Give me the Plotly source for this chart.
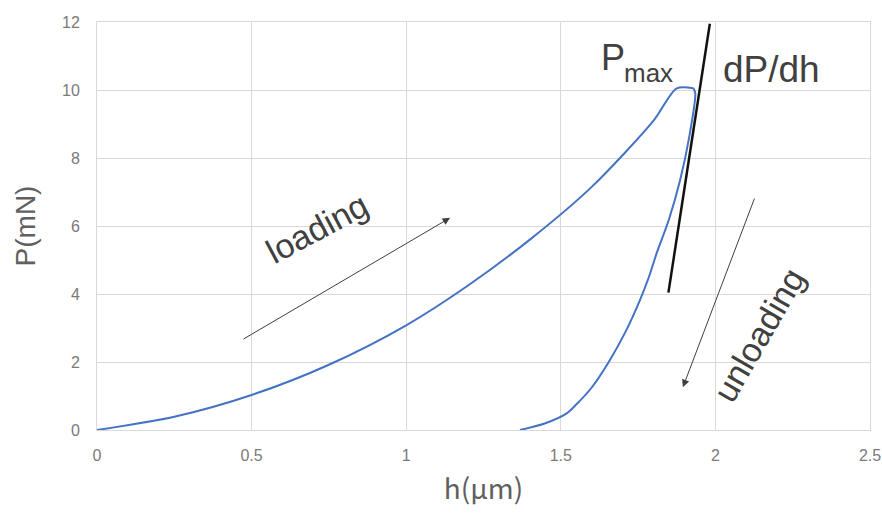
import plotly.graph_objects as go

# Loading curve (h in µm, P in mN)
loading_h = [0.0, 0.25, 0.5, 0.75, 1.0, 1.2, 1.4, 1.6, 1.8, 1.875, 1.929]
loading_P = [0.0, 0.39, 1.03, 1.92, 3.08, 4.25, 5.60, 7.15, 9.10, 10.05, 10.05]

# Unloading curve
unloading_h = [1.929, 1.935, 1.915, 1.886, 1.85, 1.81, 1.785, 1.756, 1.71, 1.659, 1.60, 1.55, 1.519, 1.45, 1.368]
unloading_P = [10.05, 9.90, 8.60, 7.35, 6.20, 5.20, 4.50, 3.82, 2.90, 2.06, 1.25, 0.75, 0.49, 0.20, 0.0]

# Tangent line dP/dh
tangent_h = [1.848, 1.982]
tangent_P = [4.04, 11.95]

x_ticks = [0, 0.5, 1, 1.5, 2, 2.5]
x_tick_labels = ["0", "0.5", "1", "1.5", "2", "2.5"]
y_ticks = [0, 2, 4, 6, 8, 10, 12]

blue = "#4472C4"
gray_text = "#7a7a7a"
title_gray = "#606060"
dark = "#404040"
sans = "Liberation Sans, Arial, sans-serif"

fig = go.Figure()
fig.add_trace(go.Scatter(x=loading_h, y=loading_P, mode="lines",
                         line=dict(color=blue, width=2, shape="spline", smoothing=0.8),
                         showlegend=False, hoverinfo="skip"))
fig.add_trace(go.Scatter(x=unloading_h, y=unloading_P, mode="lines",
                         line=dict(color=blue, width=2, shape="spline", smoothing=0.8),
                         showlegend=False, hoverinfo="skip"))
fig.add_trace(go.Scatter(x=tangent_h, y=tangent_P, mode="lines",
                         line=dict(color="#111111", width=2.5),
                         showlegend=False, hoverinfo="skip"))

annotations = [
    # loading arrow
    dict(x=1.142, y=6.24, ax=0.469, ay=2.65, xref="x", yref="y", axref="x", ayref="y",
         showarrow=True, arrowhead=2, arrowsize=1.5, arrowwidth=1, arrowcolor=dark, text=""),
    # unloading arrow
    dict(x=1.895, y=1.26, ax=2.128, ay=6.85, xref="x", yref="y", axref="x", ayref="y",
         showarrow=True, arrowhead=2, arrowsize=1.5, arrowwidth=1, arrowcolor=dark, text=""),
    dict(x=0.712, y=5.95, xref="x", yref="y", text="loading", showarrow=False, textangle=-28,
         font=dict(size=34, color=dark, family=sans)),
    dict(x=2.14, y=2.8, xref="x", yref="y", text="unloading", showarrow=False, textangle=-60,
         font=dict(size=34, color=dark, family=sans)),
    dict(x=1.669, y=10.95, xref="x", yref="y", text="P", showarrow=False,
         font=dict(size=36, color=dark, family=sans)),
    dict(x=1.785, y=10.5, xref="x", yref="y", text="max", showarrow=False,
         font=dict(size=26, color=dark, family=sans)),
    dict(x=2.183, y=10.6, xref="x", yref="y", text="dP/dh", showarrow=False,
         font=dict(size=37, color=dark, family=sans)),
]

fig.update_layout(
    width=882, height=514,
    margin=dict(l=97, r=12, t=22, b=84),
    paper_bgcolor="white", plot_bgcolor="white",
    annotations=annotations,
    font=dict(family=sans, color=gray_text),
    xaxis=dict(range=[0, 2.5], tickvals=x_ticks, ticktext=x_tick_labels, automargin=False,
               showgrid=True, gridcolor="#d9d9d9", gridwidth=1,
               zeroline=False, showline=True, linecolor="#d9d9d9", mirror=True,
               ticks="outside", ticklen=11, tickcolor="rgba(0,0,0,0)",
               tickfont=dict(size=16, color=gray_text),
               title=dict(text="h(μm)", font=dict(size=28, color=title_gray,
                          family="Noto Sans CJK JP, sans-serif"), standoff=16)),
    yaxis=dict(range=[0, 12], tickvals=y_ticks, automargin=False,
               showgrid=True, gridcolor="#d9d9d9", gridwidth=1,
               zeroline=False, showline=True, linecolor="#d9d9d9", mirror=True,
               ticks="outside", ticklen=13, tickcolor="rgba(0,0,0,0)",
               tickfont=dict(size=16, color=gray_text),
               title=dict(text="P(mN)", font=dict(size=28, color=title_gray), standoff=18)),
)

fig.write_html("out.html")
